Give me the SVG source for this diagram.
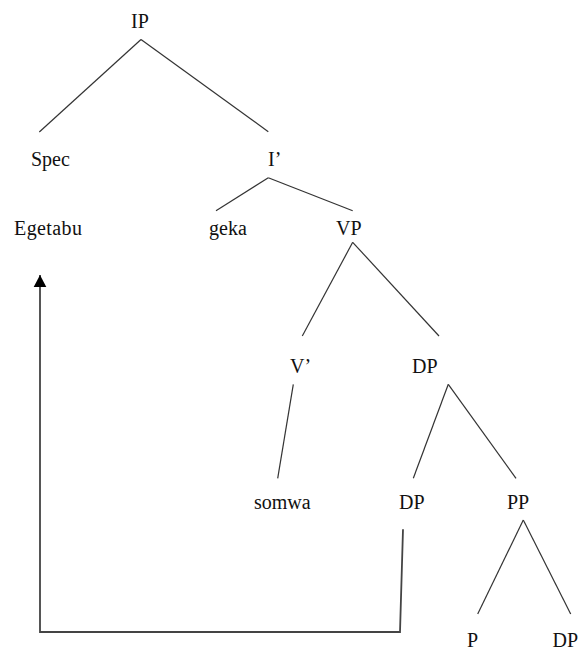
<svg xmlns="http://www.w3.org/2000/svg" width="587" height="650" viewBox="0 0 587 650">
  <style>
    text { font-family: "Liberation Serif", "Times New Roman", serif; font-size: 20px; fill: #111; }
    .edge { stroke: #333; stroke-width: 1.2; fill: none; }
    .move { stroke: #444; stroke-width: 1.8; fill: none; }
  </style>
  <defs>
    <marker id="arrow" markerUnits="userSpaceOnUse" markerWidth="14" markerHeight="14" viewBox="0 0 14 14" refX="12" refY="7" orient="auto">
      <path d="M0,0.7 L12,7 L0,13.3 Z" fill="#000"/>
    </marker>
  </defs>
  <rect x="0" y="0" width="587" height="650" fill="#fff"/>
  <g id="connectors">
    <line class="edge" x1="141" y1="39.5" x2="39.3" y2="132"/>
    <line class="edge" x1="141" y1="39.5" x2="268.3" y2="131.7"/>
    <line class="edge" x1="268.3" y1="177.7" x2="216" y2="210.7"/>
    <line class="edge" x1="268.3" y1="177.7" x2="352.7" y2="210.7"/>
    <line class="edge" x1="352.7" y1="242.3" x2="302.3" y2="336"/>
    <line class="edge" x1="352.7" y1="242.3" x2="439" y2="336"/>
    <line class="edge" x1="293.3" y1="384.3" x2="277.7" y2="478.3"/>
    <line class="edge" x1="448.3" y1="384.3" x2="413.3" y2="478.3"/>
    <line class="edge" x1="448.3" y1="384.3" x2="516" y2="478.3"/>
    <line class="edge" x1="523.3" y1="520" x2="477.7" y2="614"/>
    <line class="edge" x1="523.3" y1="520" x2="570.7" y2="614"/>
    <path class="move" d="M403,529.3 L400,632 L40,632 L40,275" marker-end="url(#arrow)"/>
  </g>
  <g id="node-IP"><text x="131" y="28">IP</text></g>
  <g id="node-Spec"><text x="31" y="166">Spec</text></g>
  <g id="node-Ibar"><text x="268" y="166">I’</text></g>
  <g id="node-Egetabu"><text x="14" y="234.5" textLength="68">Egetabu</text></g>
  <g id="node-geka"><text x="209" y="234.5">geka</text></g>
  <g id="node-VP"><text x="336" y="234.5">VP</text></g>
  <g id="node-Vbar"><text x="290" y="373">V’</text></g>
  <g id="node-DP1"><text x="412" y="373">DP</text></g>
  <g id="node-somwa"><text x="254" y="508.5">somwa</text></g>
  <g id="node-DP2"><text x="399" y="508.5">DP</text></g>
  <g id="node-PP"><text x="507" y="508.5">PP</text></g>
  <g id="node-P"><text x="467" y="647">P</text></g>
  <g id="node-DP3"><text x="552.5" y="647">DP</text></g>
</svg>
